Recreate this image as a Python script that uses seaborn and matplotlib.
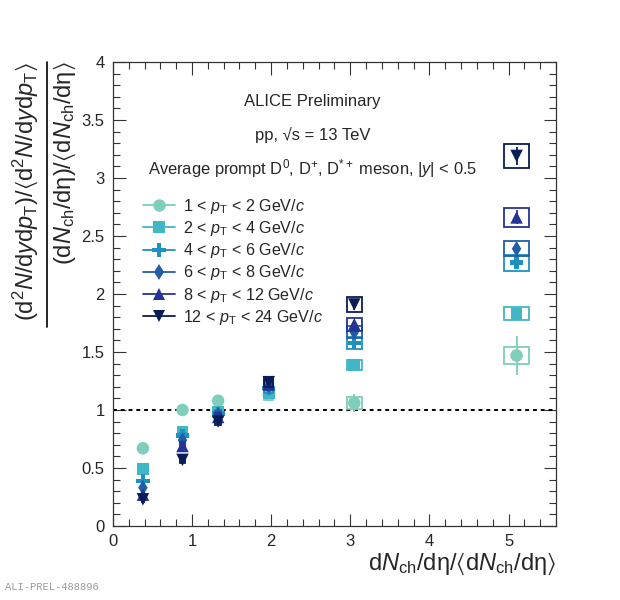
import numpy as np
import pandas as pd
import matplotlib
matplotlib.use("Agg")
import matplotlib.pyplot as plt
import seaborn as sns
from matplotlib.patches import Rectangle
from matplotlib.lines import Line2D
from matplotlib.ticker import MultipleLocator

# ----------------------------------------
# Data
# ----------------------------------------

mult_x = [0.38, 0.88, 1.33, 1.97, 3.05, 5.10]

pt_bins = [
    r"1 < $p_\mathrm{T}$ < 2 GeV/$c$",
    r"2 < $p_\mathrm{T}$ < 4 GeV/$c$",
    r"4 < $p_\mathrm{T}$ < 6 GeV/$c$",
    r"6 < $p_\mathrm{T}$ < 8 GeV/$c$",
    r"8 < $p_\mathrm{T}$ < 12 GeV/$c$",
    r"12 < $p_\mathrm{T}$ < 24 GeV/$c$",
]

ratio_1_2 = [0.67, 1.00, 1.08, 1.13, 1.06, 1.47]
ratio_2_4 = [0.49, 0.81, 0.98, 1.15, 1.39, 1.83]
ratio_4_6 = [0.39, 0.78, 0.97, 1.19, 1.58, 2.27]
ratio_6_8 = [0.33, 0.74, 0.96, 1.21, 1.67, 2.39]
ratio_8_12 = [0.27, 0.69, 0.94, 1.22, 1.74, 2.66]
ratio_12_24 = [0.23, 0.57, 0.90, 1.24, 1.91, 3.19]

stat_1_2 = [0.02, 0.04, 0.05, 0.05, 0.08, 0.17]
stat_2_4 = [0.01, 0.02, 0.02, 0.03, 0.03, 0.04]
stat_4_6 = [0.01, 0.02, 0.02, 0.02, 0.03, 0.04]
stat_6_8 = [0.01, 0.02, 0.02, 0.02, 0.03, 0.05]
stat_8_12 = [0.01, 0.02, 0.02, 0.03, 0.04, 0.06]
stat_12_24 = [0.02, 0.02, 0.03, 0.03, 0.05, 0.08]

sys_1_2 = [0.02, 0.03, 0.03, 0.04, 0.055, 0.077]
sys_2_4 = [0.02, 0.02, 0.03, 0.035, 0.045, 0.058]
sys_4_6 = [0.02, 0.02, 0.03, 0.04, 0.05, 0.068]
sys_6_8 = [0.02, 0.02, 0.03, 0.04, 0.05, 0.065]
sys_8_12 = [0.02, 0.03, 0.03, 0.04, 0.055, 0.082]
sys_12_24 = [0.02, 0.03, 0.03, 0.045, 0.062, 0.10]

mult_sys_frac = 0.03  # relative x uncertainty (box half width)

ratios = [ratio_1_2, ratio_2_4, ratio_4_6, ratio_6_8, ratio_8_12, ratio_12_24]
stats = [stat_1_2, stat_2_4, stat_4_6, stat_6_8, stat_8_12, stat_12_24]
syss = [sys_1_2, sys_2_4, sys_4_6, sys_6_8, sys_8_12, sys_12_24]

colors = ["#7fcdbb", "#41b6c4", "#1d91c0", "#225ea8", "#253494", "#081d58"]
markers = ["o", "s", "P", "d", "^", "v"]
msizes = [9, 8.5, 9.5, 8, 9, 9]

rows = []
for label, r, st, sy in zip(pt_bins, ratios, stats, syss):
    for x, v, e, s in zip(mult_x, r, st, sy):
        rows.append({"x": x, "ratio": v, "stat": e, "sys": s, "bin": label})
df = pd.DataFrame(rows)

# ----------------------------------------
# Style
# ----------------------------------------

sns.set_theme(style="ticks")
plt.rcParams["font.family"] = ["Liberation Sans", "DejaVu Sans"]
plt.rcParams["mathtext.fontset"] = "custom"
plt.rcParams["mathtext.rm"] = "Liberation Sans"
plt.rcParams["mathtext.it"] = "Liberation Sans:italic"
plt.rcParams["mathtext.bf"] = "Liberation Sans:bold"
plt.rcParams["mathtext.fallback"] = "stixsans"

fig = plt.figure(figsize=(6.2, 6.0), dpi=100)
ax = fig.add_axes([0.182, 0.1233, 0.715, 0.7734])

# systematic boxes first, then stat bars and markers
for i, label in enumerate(pt_bins):
    sub = df[df["bin"] == label]
    for _, row in sub.iterrows():
        hw = mult_sys_frac * row["x"]
        ax.add_patch(Rectangle((row["x"] - hw, row["ratio"] - row["sys"]),
                               2 * hw, 2 * row["sys"], fill=False,
                               edgecolor=colors[i], lw=1.3, zorder=2 + i))
    ax.errorbar(sub["x"], sub["ratio"], yerr=sub["stat"], fmt="none",
                ecolor=colors[i], elinewidth=1.3, capsize=0, zorder=2 + i)
    sns.scatterplot(data=sub, x="x", y="ratio", ax=ax, color=colors[i],
                    marker=markers[i], s=msizes[i] ** 2, edgecolor="none",
                    linewidth=0, legend=False, zorder=3 + i)

ax.axhline(1, color="black", ls=(0, (2, 2)), lw=1.4, zorder=1)

ax.set_xlim(0, 5.6)
ax.set_ylim(0, 4)
ax.xaxis.set_major_locator(MultipleLocator(1))
ax.xaxis.set_minor_locator(MultipleLocator(0.2))
ax.yaxis.set_major_locator(MultipleLocator(0.5))
ax.yaxis.set_minor_locator(MultipleLocator(0.1))
ax.yaxis.set_major_formatter(plt.FuncFormatter(lambda v, p: f"{v:g}"))
ax.tick_params(which="both", direction="in", top=True, right=True,
               labelsize=12, width=0.8, color="#333333", pad=6)
ax.tick_params(which="major", length=9)
ax.tick_params(which="minor", length=5)
for sp in ax.spines.values():
    sp.set_linewidth(0.9)
    sp.set_color("#333333")

LA, RA = "$\u27e8$", "$\u27e9$"

ax.set_xlabel("d$N_\\mathrm{ch}$/d\u03b7/" + LA + "d$N_\\mathrm{ch}$/d\u03b7" + RA,
              fontsize=17, loc="right", labelpad=1)
ax.set_ylabel("")

# y title drawn as a ROOT-style fraction
num = ("(d$^{2}N$/d$y$d$p_\\mathrm{T}$)/" + LA
       + "d$^{2}N$/d$y$d$p_\\mathrm{T}$" + RA)
den = "(d$N_\\mathrm{ch}$/d\u03b7)/" + LA + "d$N_\\mathrm{ch}$/d\u03b7" + RA
fig.text(0.040, 0.897, num, rotation=90, ha="center", va="top", fontsize=17)
fig.text(0.105, 0.897, den, rotation=90, ha="center", va="top", fontsize=17)
fig.add_artist(Line2D([0.076, 0.076], [0.897, 0.455], color="black", lw=1.2,
                      transform=fig.transFigure))

# text labels
ax.text(0.45, 0.915, "ALICE Preliminary", transform=ax.transAxes,
        ha="center", va="center", fontsize=12)
ax.text(0.45, 0.843, "pp, \u221as = 13 TeV", transform=ax.transAxes,
        ha="center", va="center", fontsize=12)
ax.text(0.45, 0.77, r"Average prompt D$^{0}$, D$^{+}$, D$^{*+}$ meson, $|y|$ < 0.5",
        transform=ax.transAxes, ha="center", va="center", fontsize=11.9)

handles = [Line2D([], [], color=c, marker=m, markersize=ms, lw=1.3,
                  markeredgewidth=0)
           for c, m, ms in zip(colors, markers, msizes)]
ax.legend(handles, pt_bins, loc="upper left", bbox_to_anchor=(0.05, 0.727),
          frameon=False, fontsize=11.6, handlelength=2.0, handletextpad=0.45,
          labelspacing=0.2, borderpad=0)

fig.text(0.008, 0.013, "ALI-PREL-488896", fontsize=7.5, color="#999999",
         family=["Liberation Mono", "DejaVu Sans Mono"], ha="left", va="bottom")

fig.savefig("out.png", dpi=100)
